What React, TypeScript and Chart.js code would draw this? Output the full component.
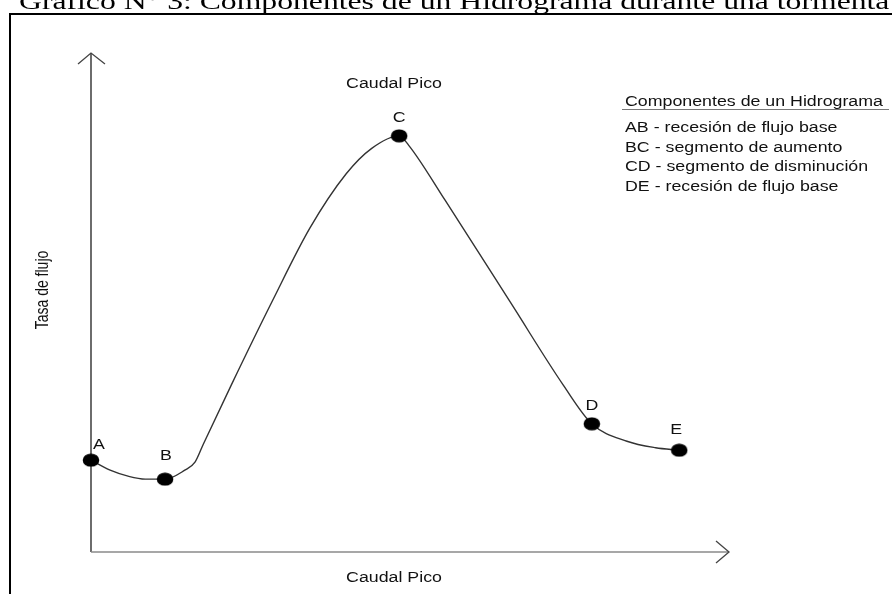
import React, { useEffect, useRef } from 'react';
import { Chart, registerables } from 'chart.js';

Chart.register(...registerables);

const chartTitle = 'Gráfico N° 3: Componentes de un Hidrograma durante una tormenta';
const yAxisTitle = 'Tasa de flujo';
const xAxisTitle = 'Caudal Pico';
const peakNote = 'Caudal Pico';
const legendTitle = 'Componentes de un Hidrograma';
const legendItems = [
  'AB - recesión de flujo base',
  'BC - segmento de aumento',
  'CD - segmento de disminución',
  'DE - recesión de flujo base',
];

// hydrograph curve (time 0-100, flow 0-100, arbitrary units)
const curveTime = [0, 3.0, 5.8, 8.5, 11.6, 14.7, 16.3, 17.6, 22.0, 28.5, 34.3, 40.0, 44.0, 48.3, 49.8, 55.5, 66.0, 74.0, 78.5, 84.0, 88.5, 92.2];
const curveFlow = [18.4, 16.4, 15.2, 14.6, 14.6, 16.4, 18.0, 21.6, 33.5, 50.5, 64.9, 75.8, 80.9, 83.4, 81.5, 70.5, 49.5, 33.5, 25.7, 22.2, 20.9, 20.4];

const pointLabels = ['A', 'B', 'C', 'D', 'E'];
const pointTime = [0, 11.6, 48.3, 78.5, 92.2];
const pointFlow = [18.4, 14.6, 83.4, 25.7, 20.4];

const STRETCH = 1.27;
const SANS = '"Liberation Sans", Arial, sans-serif';

function drawText(
  ctx: CanvasRenderingContext2D,
  text: string,
  x: number,
  y: number,
  font: string,
  align: CanvasTextAlign = 'left',
  stretch = STRETCH,
  rotate = 0,
  color = '#111'
) {
  ctx.save();
  ctx.translate(x, y);
  ctx.scale(stretch, 1);
  if (rotate) ctx.rotate(rotate);
  ctx.font = font;
  ctx.fillStyle = color;
  ctx.textAlign = align;
  ctx.textBaseline = 'alphabetic';
  ctx.fillText(text, 0, 0);
  ctx.restore();
}

const labelOffsets = [
  [8, -11],
  [1, -19],
  [0, -14],
  [0, -14],
  [-3, -16],
];

const decorPlugin = {
  id: 'decor',
  beforeDatasetsDraw(chart: any) {
    const ctx: CanvasRenderingContext2D = chart.ctx;
    const xs = chart.scales.x;
    const ys = chart.scales.y;
    const x0 = xs.getPixelForValue(0);
    const y0 = ys.getPixelForValue(0);
    const xR = xs.getPixelForValue(100);
    const yT = ys.getPixelForValue(100);
    ctx.save();
    ctx.lineCap = 'butt';
    ctx.strokeStyle = '#1e1e1e';
    ctx.lineWidth = 1.3;
    ctx.beginPath();
    ctx.moveTo(x0, y0);
    ctx.lineTo(x0, yT);
    ctx.stroke();
    ctx.strokeStyle = '#444';
    ctx.beginPath();
    ctx.moveTo(x0 - 13, yT + 11);
    ctx.lineTo(x0, yT);
    ctx.lineTo(x0 + 14, yT + 11);
    ctx.stroke();
    ctx.strokeStyle = '#8a8a8a';
    ctx.lineWidth = 1.6;
    ctx.beginPath();
    ctx.moveTo(x0, y0);
    ctx.lineTo(xR, y0);
    ctx.stroke();
    ctx.strokeStyle = '#444';
    ctx.lineWidth = 1.3;
    ctx.beginPath();
    ctx.moveTo(xR - 13, y0 - 11);
    ctx.lineTo(xR, y0);
    ctx.lineTo(xR - 13, y0 + 11);
    ctx.stroke();
    ctx.restore();
  },
  afterDraw(chart: any) {
    const ctx: CanvasRenderingContext2D = chart.ctx;
    const xs = chart.scales.x;
    const ys = chart.scales.y;
    const f14 = `14px ${SANS}`;
    drawText(ctx, chartTitle, 19, 8.5, '24px "Liberation Serif", "Times New Roman", serif', 'left', 1.32, 0, '#000');
    drawText(ctx, peakNote, 394, 88, f14, 'center');
    drawText(ctx, xAxisTitle, 394, 582, f14, 'center');
    ctx.save();
    ctx.translate(48, 290);
    ctx.scale(STRETCH, 1);
    ctx.rotate(-Math.PI / 2);
    ctx.font = f14;
    ctx.fillStyle = '#111';
    ctx.textAlign = 'center';
    ctx.textBaseline = 'alphabetic';
    ctx.fillText(yAxisTitle, 0, 0);
    ctx.restore();
    drawText(ctx, legendTitle, 625, 106, f14, 'left');
    ctx.save();
    ctx.strokeStyle = '#777';
    ctx.lineWidth = 1;
    ctx.beginPath();
    ctx.moveTo(622, 109.5);
    ctx.lineTo(889, 109.5);
    ctx.stroke();
    ctx.restore();
    legendItems.forEach((t, i) => {
      drawText(ctx, t, 625, 132 + i * 19.7, f14, 'left');
    });
    pointLabels.forEach((lab, i) => {
      const px = xs.getPixelForValue(pointTime[i]) + labelOffsets[i][0];
      const py = ys.getPixelForValue(pointFlow[i]) + labelOffsets[i][1];
      drawText(ctx, lab, px, py, f14, 'center');
    });
  },
};

function makeDot(): HTMLCanvasElement {
  const c = document.createElement('canvas');
  c.width = 18;
  c.height = 14;
  const g = c.getContext('2d')!;
  g.fillStyle = '#000';
  g.beginPath();
  g.ellipse(9, 7, 8.3, 6.6, 0, 0, Math.PI * 2);
  g.fill();
  return c;
}

export default function App() {
  const ref = useRef<HTMLCanvasElement>(null);
  useEffect(() => {
    if (!ref.current) return;
    const dot = makeDot();
    const chart = new Chart(ref.current, {
      type: 'line',
      data: {
        datasets: [
          {
            label: 'puntos',
            data: pointTime.map((t, i) => ({ x: t, y: pointFlow[i] })),
            showLine: false,
            pointStyle: dot as any,
            pointRadius: 8,
            pointHoverRadius: 8,
            clip: false as any,
            order: 0,
          },
          {
            label: 'hidrograma',
            data: curveTime.map((t, i) => ({ x: t, y: curveFlow[i] })),
            borderColor: '#333',
            borderWidth: 1.4,
            pointRadius: 0,
            cubicInterpolationMode: 'monotone',
            fill: false,
            clip: false as any,
            order: 1,
          },
        ],
      },
      options: {
        animation: false,
        responsive: false,
        devicePixelRatio: 1,
        layout: { padding: { left: 91, top: 53, right: 163, bottom: 42 } },
        scales: {
          x: { type: 'linear', min: 0, max: 100, display: false },
          y: { type: 'linear', min: 0, max: 100, display: false },
        },
        plugins: {
          legend: { display: false },
          tooltip: { enabled: false },
          title: { display: false },
        },
        events: [],
      },
      plugins: [decorPlugin],
    });
    return () => chart.destroy();
  }, []);

  return (
    <div
      style={{
        position: 'fixed',
        left: 0,
        top: 0,
        width: 892,
        height: 594,
        overflow: 'hidden',
        background: '#fff',
      }}
    >
      <div
        style={{
          position: 'absolute',
          left: 9,
          top: 13,
          width: 2000,
          height: 2000,
          border: '2px solid #000',
          boxSizing: 'border-box',
        }}
      />
      <canvas
        ref={ref}
        width={892}
        height={594}
        style={{ position: 'absolute', left: 0, top: 0, width: 892, height: 594 }}
      />
    </div>
  );
}
